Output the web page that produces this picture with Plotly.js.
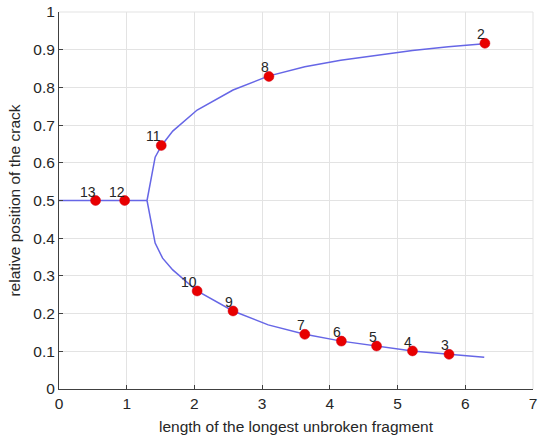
<!DOCTYPE html>
<html>
<head>
<meta charset="utf-8">
<script src="https://cdn.plot.ly/plotly-3.0.1.min.js"></script>
<style>html,body{margin:0;padding:0;background:#fff;}#chart{width:539px;height:438px;}</style>
</head>
<body>
<div id="chart"></div>
<script>
// Curve (piecewise-linear)
const curveX = [0, 0.54, 0.97, 1.30];
const curveY = [0.5, 0.5, 0.5, 0.5];
const upperX = [1.30, 1.42, 1.515, 1.68, 2.04, 2.57, 3.09, 3.63, 4.16, 4.69, 5.22, 5.75, 6.28];
const upperY = [0.5, 0.615, 0.646, 0.684, 0.74, 0.793, 0.83, 0.855, 0.872, 0.886, 0.898, 0.908, 0.916];
const lowerX = [1.30, 1.42, 1.53, 1.68, 2.04, 2.57, 3.09, 3.63, 4.17, 4.69, 5.22, 5.76, 6.28];
const lowerY = [0.5, 0.387, 0.347, 0.316, 0.26, 0.207, 0.17, 0.145, 0.127, 0.114, 0.101, 0.092, 0.084];

// Labelled points
const pointLabels = ["2", "3", "4", "5", "6", "7", "8", "9", "10", "11", "12", "13"];
const pointX = [6.29, 5.76, 5.22, 4.69, 4.17, 3.63, 3.10, 2.57, 2.04, 1.51, 0.97, 0.54];
const pointY = [0.917, 0.092, 0.101, 0.114, 0.127, 0.145, 0.829, 0.207, 0.26, 0.646, 0.5, 0.5];

const xTicks = [0, 1, 2, 3, 4, 5, 6, 7];
const yTicks = [0, 0.1, 0.2, 0.3, 0.4, 0.5, 0.6, 0.7, 0.8, 0.9, 1];

const lineStyle = {color: 'rgb(102,102,230)', width: 1.5};
const fam = 'Liberation Sans, Arial, sans-serif';
const font = {family: fam, size: 15.5, color: '#262626'};

const traces = [
  {x: curveX, y: curveY, mode: 'lines', line: lineStyle, hoverinfo: 'skip'},
  {x: upperX, y: upperY, mode: 'lines', line: lineStyle, hoverinfo: 'skip'},
  {x: lowerX, y: lowerY, mode: 'lines', line: lineStyle, hoverinfo: 'skip'},
  {x: pointX, y: pointY, mode: 'markers',
   marker: {color: 'rgb(232,0,0)', size: 10, line: {color: 'rgb(210,0,20)', width: 0.5}}}
];

const annotations = pointLabels.map((t, i) => ({
  x: pointX[i], y: pointY[i], text: t, showarrow: false,
  xanchor: 'right', yanchor: 'middle', xshift: 2, yshift: 9,
  font: {family: fam, size: 14, color: '#262626'}
}));

const axisCommon = {
  showline: true, linecolor: '#404040', linewidth: 1,
  ticks: 'inside', ticklen: 4, tickcolor: '#404040',
  showgrid: true, gridcolor: '#e3e3e3', gridwidth: 1,
  zeroline: false, tickfont: font, ticklabeloverflow: 'allow'
};

const layout = {
  width: 539, height: 438,
  margin: {l: 59, r: 6, t: 12, b: 49},
  showlegend: false,
  paper_bgcolor: '#fff', plot_bgcolor: '#fff',
  font: font,
  xaxis: Object.assign({}, axisCommon, {
    range: [0, 7], tickvals: xTicks, ticktext: xTicks.map(String),
    title: {text: 'length of the longest unbroken fragment', font: font, standoff: 10}
  }),
  yaxis: Object.assign({}, axisCommon, {
    range: [0, 1], tickvals: yTicks, ticktext: yTicks.map(String),
    title: {text: 'relative position of the crack', font: font, standoff: 8}
  }),
  annotations: annotations,
  shapes: [
    {type: 'line', xref: 'paper', yref: 'paper', x0: 0, x1: 1, y0: 1, y1: 1, line: {color: '#e3e3e3', width: 1}, layer: 'below'},
    {type: 'line', xref: 'paper', yref: 'paper', x0: 1, x1: 1, y0: 0, y1: 1, line: {color: '#e3e3e3', width: 1}, layer: 'below'}
  ]
};

Plotly.newPlot('chart', traces, layout, {displayModeBar: false, staticPlot: true});
</script>
</body>
</html>
